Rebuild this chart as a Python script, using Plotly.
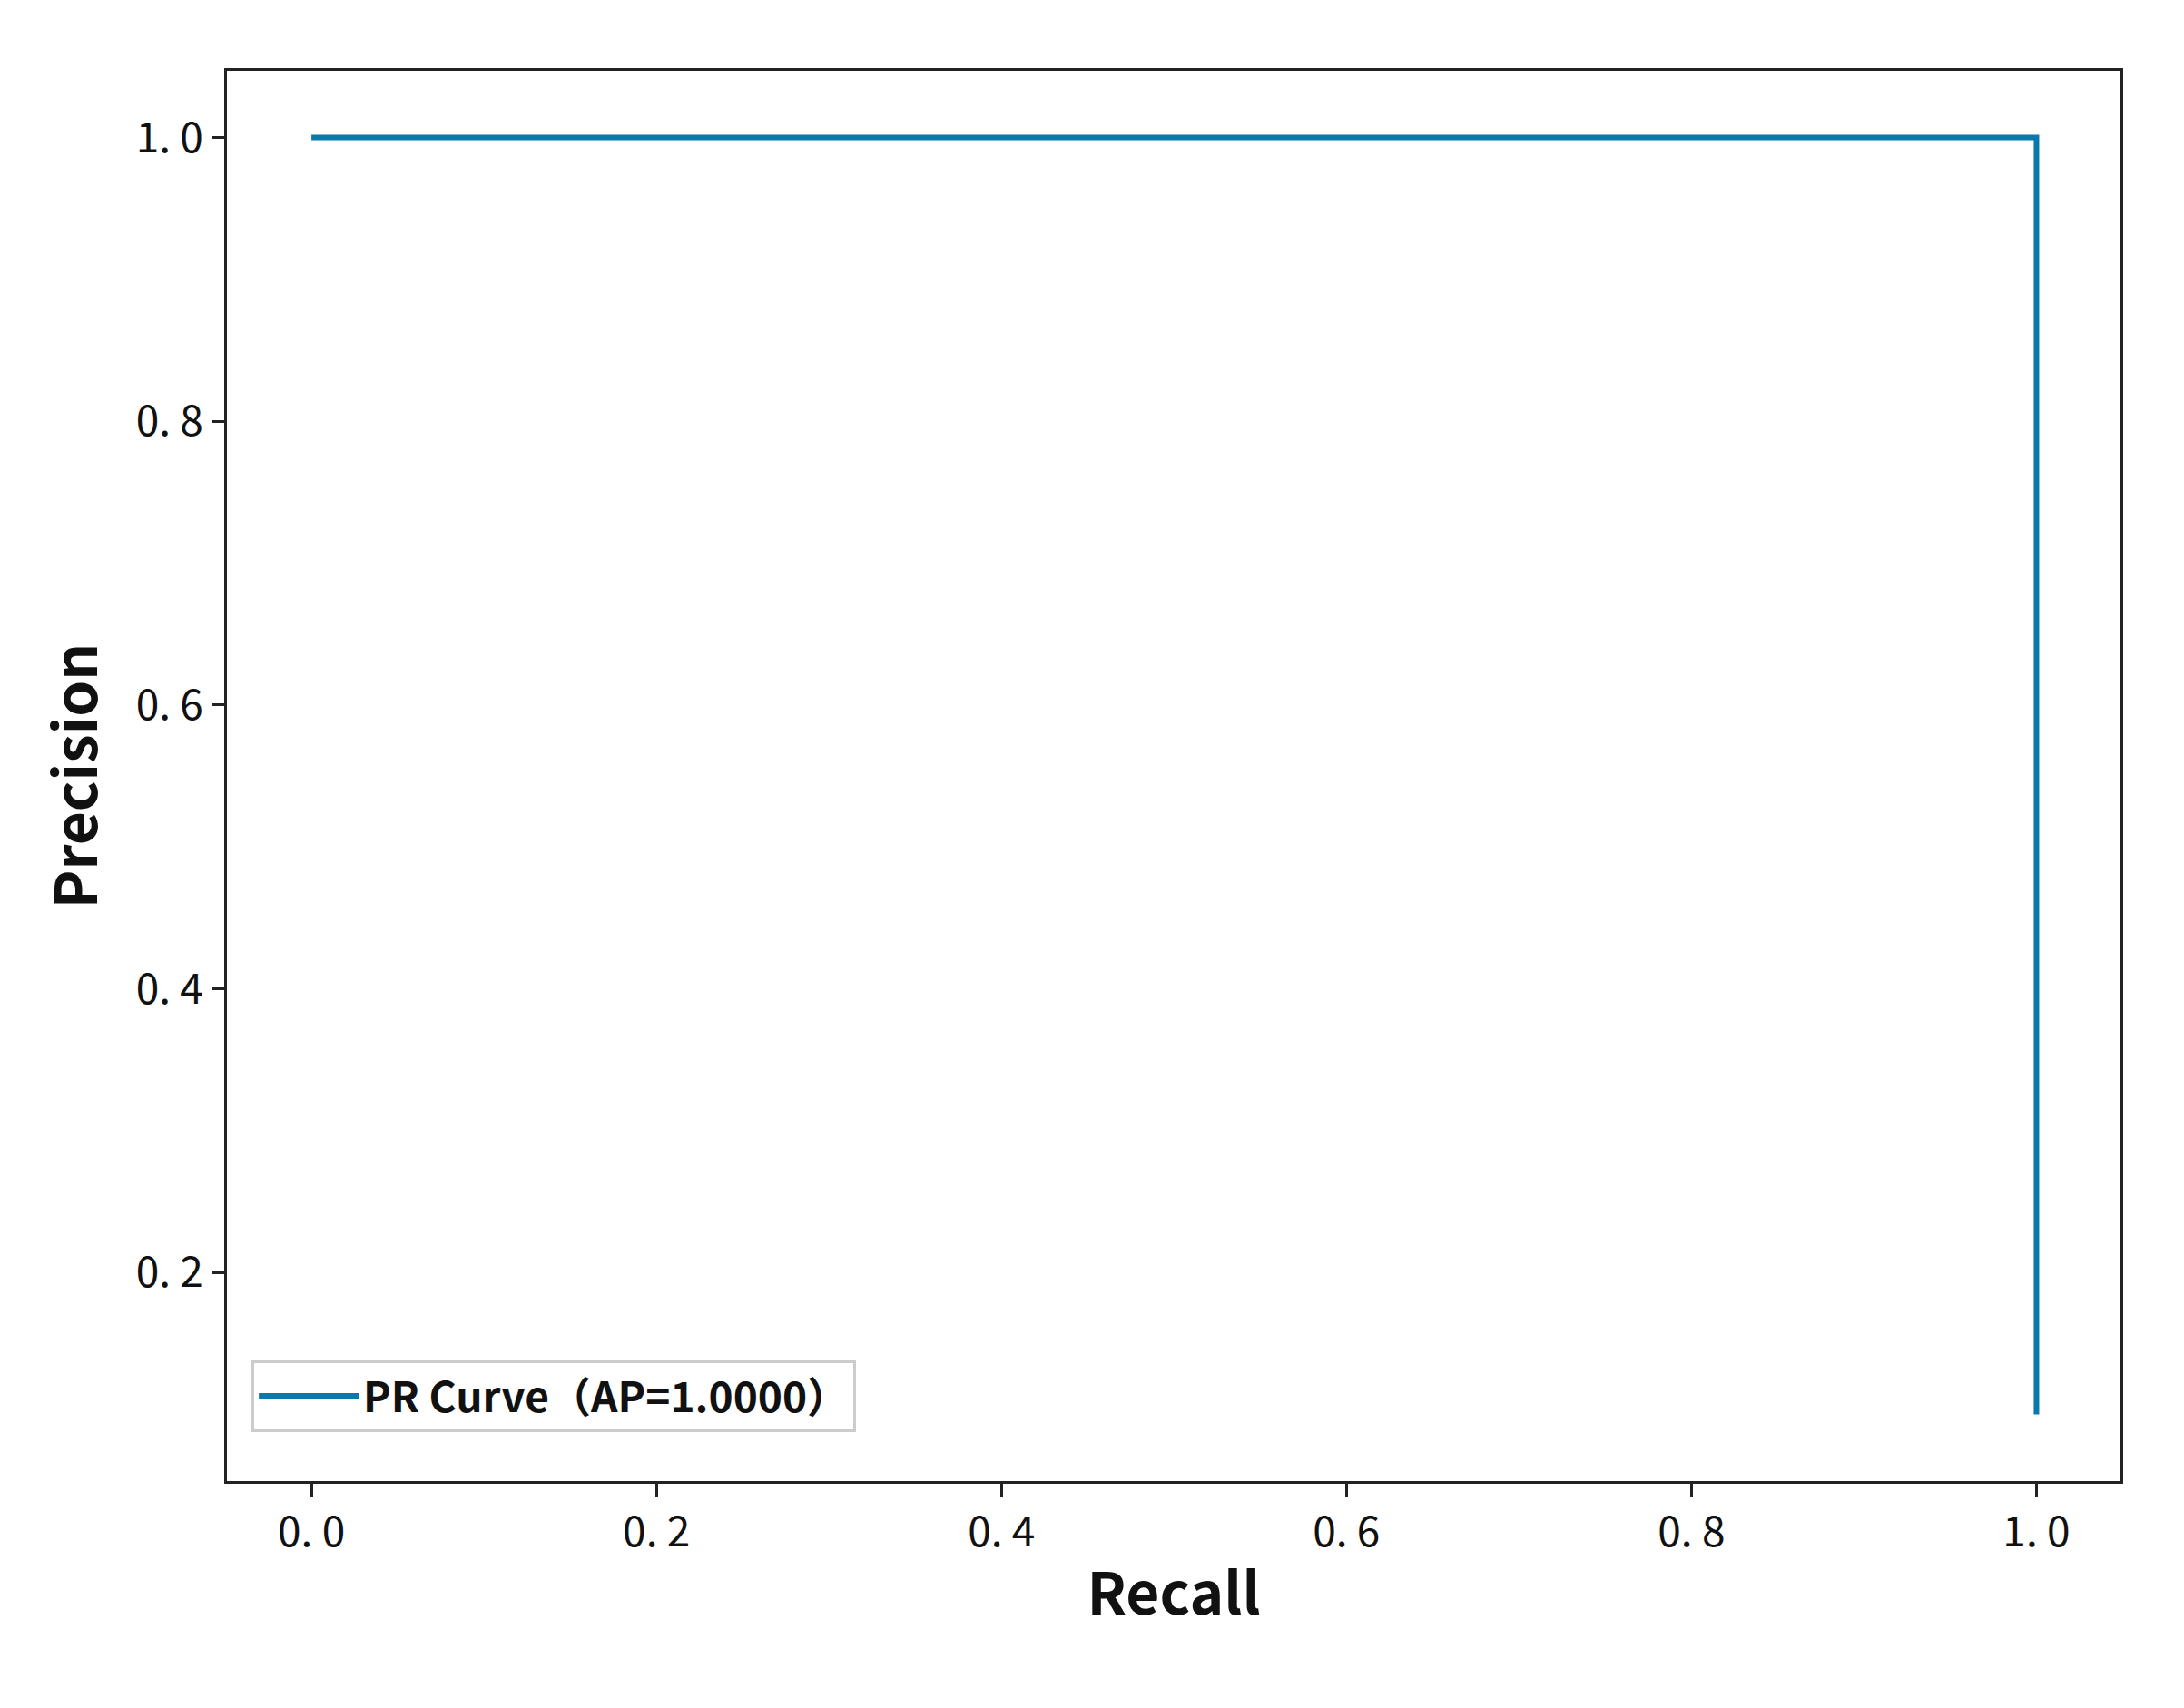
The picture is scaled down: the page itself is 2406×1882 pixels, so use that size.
import plotly.graph_objects as go

recall = [0.0, 1.0, 1.0]
precision = [1.0, 1.0, 0.1]
tick_vals = [0.0, 0.2, 0.4, 0.6, 0.8, 1.0]
tick_text = ["0. 0", "0. 2", "0. 4", "0. 6", "0. 8", "1. 0"]
ytick_vals = [0.2, 0.4, 0.6, 0.8, 1.0]
ytick_text = ["0. 2", "0. 4", "0. 6", "0. 8", "1. 0"]

font = "Noto Sans CJK SC"

fig = go.Figure()
fig.add_trace(go.Scatter(x=recall, y=precision, mode="lines",
                         name="<b>PR Curve（AP=1.0000）</b>",
                         line=dict(color="#0a78aa", width=6)))

axis_common = dict(showline=True, mirror=True, linecolor="#222", linewidth=3,
                   ticks="outside", ticklen=14, tickwidth=3, tickcolor="#222",
                   showgrid=False, zeroline=False,
                   tickfont=dict(family=font, size=46, color="#111"))

fig.update_xaxes(range=[-0.049, 1.0487], tickvals=tick_vals, ticktext=tick_text,
                 title=dict(text="<b>Recall</b>", font=dict(family=font, size=64, color="#111"),
                            standoff=18),
                 **axis_common)
fig.update_yaxes(range=[0.053, 1.047], tickvals=ytick_vals, ticktext=ytick_text,
                 title=dict(text="<b>Precision</b>", font=dict(family=font, size=64, color="#111"),
                            standoff=22),
                 **axis_common)

fig.update_layout(
    width=2406, height=1882,
    margin=dict(l=242, r=78, t=70, b=258),
    plot_bgcolor="white", paper_bgcolor="white",
    showlegend=True,
    legend=dict(x=0.013, y=0.035, xanchor="left", yanchor="bottom",
                bordercolor="#ccc", borderwidth=3, bgcolor="white", itemwidth=110,
                font=dict(family=font, size=46, color="#111")),
)

fig.write_html("out.html")
